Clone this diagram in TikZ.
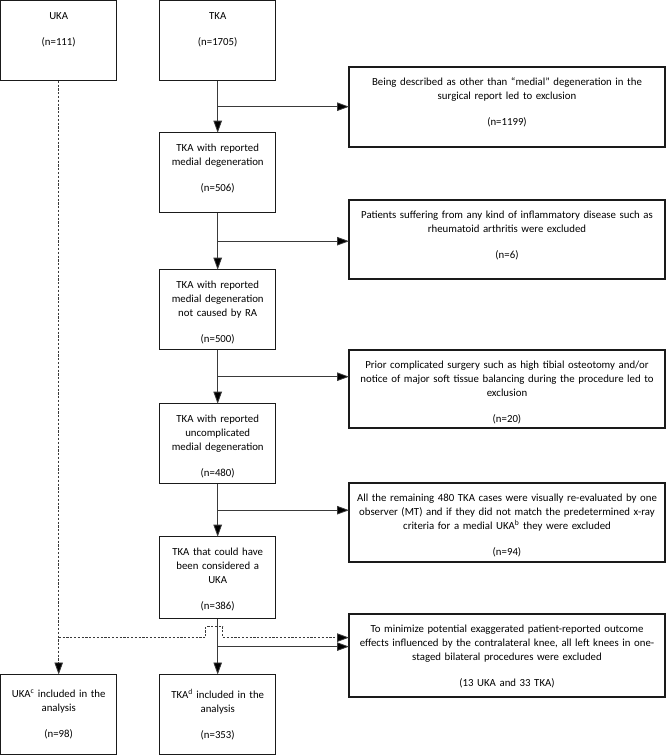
\documentclass[tikz,border=0pt]{standalone}
\usepackage{fontspec}
\setmainfont{Carlito}
\usepackage{tikz}
\usetikzlibrary{positioning, arrows.meta, calc}
\definecolor{cborde}{HTML}{1a1a1a}
\definecolor{clinea}{HTML}{3a3a3a}
\tikzset{
  caja/.style={rectangle, draw=cborde, line width=1.3pt, outer sep=0pt, text width=#1, align=center,
               inner xsep=3pt, inner ysep=7.5pt, text height=11pt, text depth=54pt,
               font=\fontsize{10.8}{14}\selectfont},
  caja/.default=110pt,
  cajafin/.style={caja, text height=, text depth=, minimum height=80pt, inner ysep=4pt},
  exclu/.style={caja=310pt, anchor=north west},
  flecha/.style={-{Triangle[length=12pt, width=8.5pt, fill=black]}, line width=0.8pt, draw=clinea},
  punteada/.style={flecha, dash pattern=on 2.2pt off 1.6pt},
}

\begin{document}
\begin{tikzpicture}[x=1pt, y=-1pt, node distance=52pt and 43pt]
        \useasboundingbox (0,0) rectangle (672,756);
        % columna izquierda
        \node[caja, anchor=north west] (uka) at (0.7,0.7) {UKA\\[12pt] (n=111)};
        \node[caja, right=43pt of uka] (tka) {TKA\\[12pt] (n=1705)};
        \node[caja, below=52pt of tka] (m1) {TKA with reported\\ medial degeneration\\[12pt] (n=506)};
        \node[caja, below=57pt of m1] (m2) {TKA with reported\\ medial degeneration\\ not caused by RA\\[12pt] (n=500)};
        \node[caja, below=54pt of m2] (m3) {TKA with reported\\ uncomplicated\\ medial degeneration\\[12pt] (n=480)};
        \node[caja, text depth=56pt, below=53pt of m3] (m4) {TKA that could have\\ been considered a\\ UKA\\[12pt] (n=386)};
        \node[cajafin, anchor=south] (tkafin) at (m4.south |- 0,754.5) {TKA\textsuperscript{d} included in the\\ analysis\\[12pt] (n=353)\\[10pt]};
        \node[cajafin, left=43pt of tkafin] (ukafin) {UKA\textsuperscript{c} included in the\\ analysis\\[12pt] (n=98)\\[10pt]};
        % exclusiones
        \node[exclu] (x1) at (349,67) {Being described as other than “medial” degeneration in the\\ surgical report led to exclusion\\[12pt] (n=1199)};
        \node[exclu, text depth=53pt] (x2) at (349,200) {Patients suffering from any kind of inflammatory disease such as\\ rheumatoid arthritis were excluded\\[12pt] (n=6)};
        \node[exclu, text depth=52pt] (x3) at (349,350) {Prior complicated surgery such as high tibial osteotomy and/or\\ notice of major soft tissue balancing during the procedure led to\\ exclusion\\[12pt] (n=20)};
        \node[exclu, text depth=53pt] (x4) at (349,483) {All the remaining 480 TKA cases were visually re-evaluated by one\\ observer (MT) and if they did not match the predetermined x-ray\\ criteria for a medial UKA\textsuperscript{b} they were excluded\\[12pt] (n=94)};
        \node[exclu, text depth=57pt] (x5) at (349,614) {To minimize potential exaggerated patient-reported outcome\\ effects influenced by the contralateral knee, all left knees in one-\\ staged bilateral procedures were excluded\\[12pt] (13 UKA and 33 TKA)};
        % puntos de bifurcacion
        \coordinate (b1) at ($(tka.south)!0.5!(m1.north)$);
        \coordinate (b2) at ($(m1.south)!0.5!(m2.north)$);
        \coordinate (b3) at ($(m2.south)!0.5!(m3.north)$);
        \coordinate (b4) at ($(m3.south)!0.5!(m4.north)$);
        \coordinate (b5) at ($(m4.south)!0.5!(tkafin.north)$);
        \coordinate (db) at ($(b5)+(0,-9)$);
        % flechas
        \draw[flecha] (tka) -- (m1);
        \draw[flecha] (m1) -- (m2);
        \draw[flecha] (m2) -- (m3);
        \draw[flecha] (m3) -- (m4);
        \draw[flecha] (m4) -- (tkafin);
        \draw[flecha] (b1) -- (b1 -| x1.west);
        \draw[flecha] (b2) -- (b2 -| x2.west);
        \draw[flecha] (b3) -- (b3 -| x3.west);
        \draw[flecha] (b4) -- (b4 -| x4.west);
        \draw[flecha] (b5) -- (b5 -| x5.west);
        \draw[punteada] (uka) -- (ukafin);
        \draw[punteada] (db -| uka.south) -- ($(db)+(-12,0)$) -- ($(db)+(-12,-11)$)
            -- ($(db)+(5,-11)$) -- ($(db)+(5,0)$) -- (db -| x5.west);
\end{tikzpicture}
\end{document}
